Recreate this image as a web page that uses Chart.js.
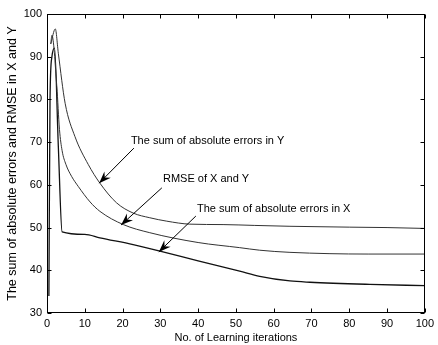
<!DOCTYPE html>
<html><head><meta charset="utf-8">
<script src="https://cdn.jsdelivr.net/npm/chart.js@4.4.0/dist/chart.umd.min.js"></script>
<style>html,body{margin:0;padding:0;background:#fff;}canvas{display:block;}</style>
</head><body>
<canvas id="c" width="438" height="345"></canvas>
<script>
// Sum of absolute errors in Y
const itersY = [1, 2.2, 3, 4.8, 7.4, 10.9, 14, 18.4, 22.8, 27.2, 31.7, 37.8, 46.6, 55, 64.3, 80, 90, 100];
const errY   = [93, 96.5, 90.8, 79.1, 71.3, 64.8, 60.4, 55.8, 53.4, 52.3, 51.5, 50.8, 50.7, 50.5, 50.3, 50.1, 50.0, 49.8];
// RMSE of X and Y
const itersR = [1, 1.3, 2.6, 3.3, 4, 5, 6.5, 8.3, 11.4, 14, 20.2, 27.2, 40, 51, 56.3, 64.3, 85, 100];
const rmse   = [93, 95, 83, 73, 68, 64.8, 62, 59.6, 56, 53.8, 50.7, 48.8, 46.5, 45.3, 44.7, 44.2, 43.8, 43.8];
// Sum of absolute errors in X
const itersX = [0.5, 0.8, 1.3, 2, 3, 4, 10, 14, 22.8, 29.9, 40, 51, 56.3, 64.3, 69.6, 85.4, 100];
const errX   = [34, 80, 90, 92, 69, 49, 48.4, 47.6, 46, 44.5, 42.2, 39.8, 38.6, 37.5, 37.2, 36.7, 36.4];

const xTicks = [0, 10, 20, 30, 40, 50, 60, 70, 80, 90, 100];
const yTicks = [30, 40, 50, 60, 70, 80, 90, 100];

// annotation labels (data coordinates: label left/middle, arrow start, arrow tip)
const noteTexts = ['The sum of absolute errors in Y', 'RMSE of X and Y', 'The sum of absolute errors in X'];
const noteX = [22.2, 30.7, 39.7];
const noteY = [70.3, 61.4, 54.3];
const arrowFromX = [23.0, 30.4, 39.4];
const arrowFromY = [68.6, 59.3, 52.7];
const arrowToX = [13.8, 19.6, 29.6];
const arrowToY = [60.4, 50.6, 44.3];

const pts = (xs, ys) => xs.map((v, i) => ({x: v, y: ys[i]}));
const FONT = '"Liberation Sans", Arial, sans-serif';

const boxPlugin = {
  id: 'box',
  afterDatasetsDraw(chart) {
    const {ctx, chartArea: a, scales: {x, y}} = chart;
    ctx.save();
    ctx.strokeStyle = '#000'; ctx.lineWidth = 1;
    const L = Math.round(a.left) + 0.5, R = Math.round(a.right) - 0.5,
          T = Math.round(a.top) + 0.5, B = Math.round(a.bottom) - 0.5;
    ctx.strokeRect(L, T, R - L, B - T);
    ctx.beginPath();
    xTicks.forEach(v => {
      const px = Math.round(x.getPixelForValue(v)) + 0.5;
      ctx.moveTo(px, B); ctx.lineTo(px, B - 4);
      ctx.moveTo(px, T); ctx.lineTo(px, T + 4);
    });
    yTicks.forEach(v => {
      const py = Math.round(y.getPixelForValue(v)) + 0.5;
      ctx.moveTo(L, py); ctx.lineTo(L + 4, py);
      ctx.moveTo(R, py); ctx.lineTo(R - 4, py);
    });
    ctx.stroke();

    ctx.font = '11px ' + FONT;
    ctx.fillStyle = '#000';
    ctx.textBaseline = 'middle'; ctx.textAlign = 'left';
    noteTexts.forEach((t, i) => {
      ctx.fillText(t, x.getPixelForValue(noteX[i]), y.getPixelForValue(noteY[i]));
      const x0 = x.getPixelForValue(arrowFromX[i]), y0 = y.getPixelForValue(arrowFromY[i]);
      const x1 = x.getPixelForValue(arrowToX[i]), y1 = y.getPixelForValue(arrowToY[i]);
      ctx.beginPath(); ctx.moveTo(x0, y0); ctx.lineTo(x1, y1); ctx.stroke();
      const ang = Math.atan2(y1 - y0, x1 - x0);
      const len = 12, half = 4.5, back = 8;
      const bx = x1 - len * Math.cos(ang), by = y1 - len * Math.sin(ang);
      const mx = x1 - back * Math.cos(ang), my = y1 - back * Math.sin(ang);
      ctx.beginPath();
      ctx.moveTo(x1, y1);
      ctx.lineTo(bx - half * Math.sin(ang), by + half * Math.cos(ang));
      ctx.lineTo(mx, my);
      ctx.lineTo(bx + half * Math.sin(ang), by - half * Math.cos(ang));
      ctx.closePath(); ctx.fill();
    });
    ctx.restore();
  }
};

new Chart(document.getElementById('c'), {
  type: 'line',
  data: {
    datasets: [
      {label: 'Y', data: pts(itersY, errY), borderColor: '#333', borderWidth: 1, pointRadius: 0, cubicInterpolationMode: 'monotone'},
      {label: 'RMSE', data: pts(itersR, rmse), borderColor: '#333', borderWidth: 1, pointRadius: 0, cubicInterpolationMode: 'monotone'},
      {label: 'X', data: pts(itersX, errX), borderColor: '#111', borderWidth: 1.3, pointRadius: 0, cubicInterpolationMode: 'monotone'}
    ]
  },
  options: {
    responsive: false, animation: false, devicePixelRatio: 1,
    layout: {padding: {top: 14, right: 13, left: 0, bottom: 0}},
    plugins: {legend: {display: false}, tooltip: {enabled: false}},
    scales: {
      x: {
        type: 'linear', min: 0, max: 100,
        afterBuildTicks: s => { s.ticks = xTicks.map(v => ({value: v})); },
        afterFit: s => { s.height = 32; },
        grid: {display: false, drawTicks: false},
        border: {display: false},
        ticks: {padding: 4, color: '#000', maxRotation: 0, font: {family: FONT, size: 11}},
        title: {display: true, text: 'No. of Learning iterations', color: '#000', padding: {top: 0, bottom: 0}, font: {family: FONT, size: 11}}
      },
      y: {
        type: 'linear', min: 30, max: 100,
        afterBuildTicks: s => { s.ticks = yTicks.map(v => ({value: v})); },
        afterFit: s => { s.width = 47; },
        grid: {display: false, drawTicks: false},
        border: {display: false},
        ticks: {padding: 5, color: '#000', font: {family: FONT, size: 11}},
        title: {display: true, text: 'The sum of absolute errors and RMSE in X and Y', color: '#000', padding: {top: 5, bottom: 0}, font: {family: FONT, size: 12.5}}
      }
    }
  },
  plugins: [boxPlugin]
});
</script>
</body></html>
